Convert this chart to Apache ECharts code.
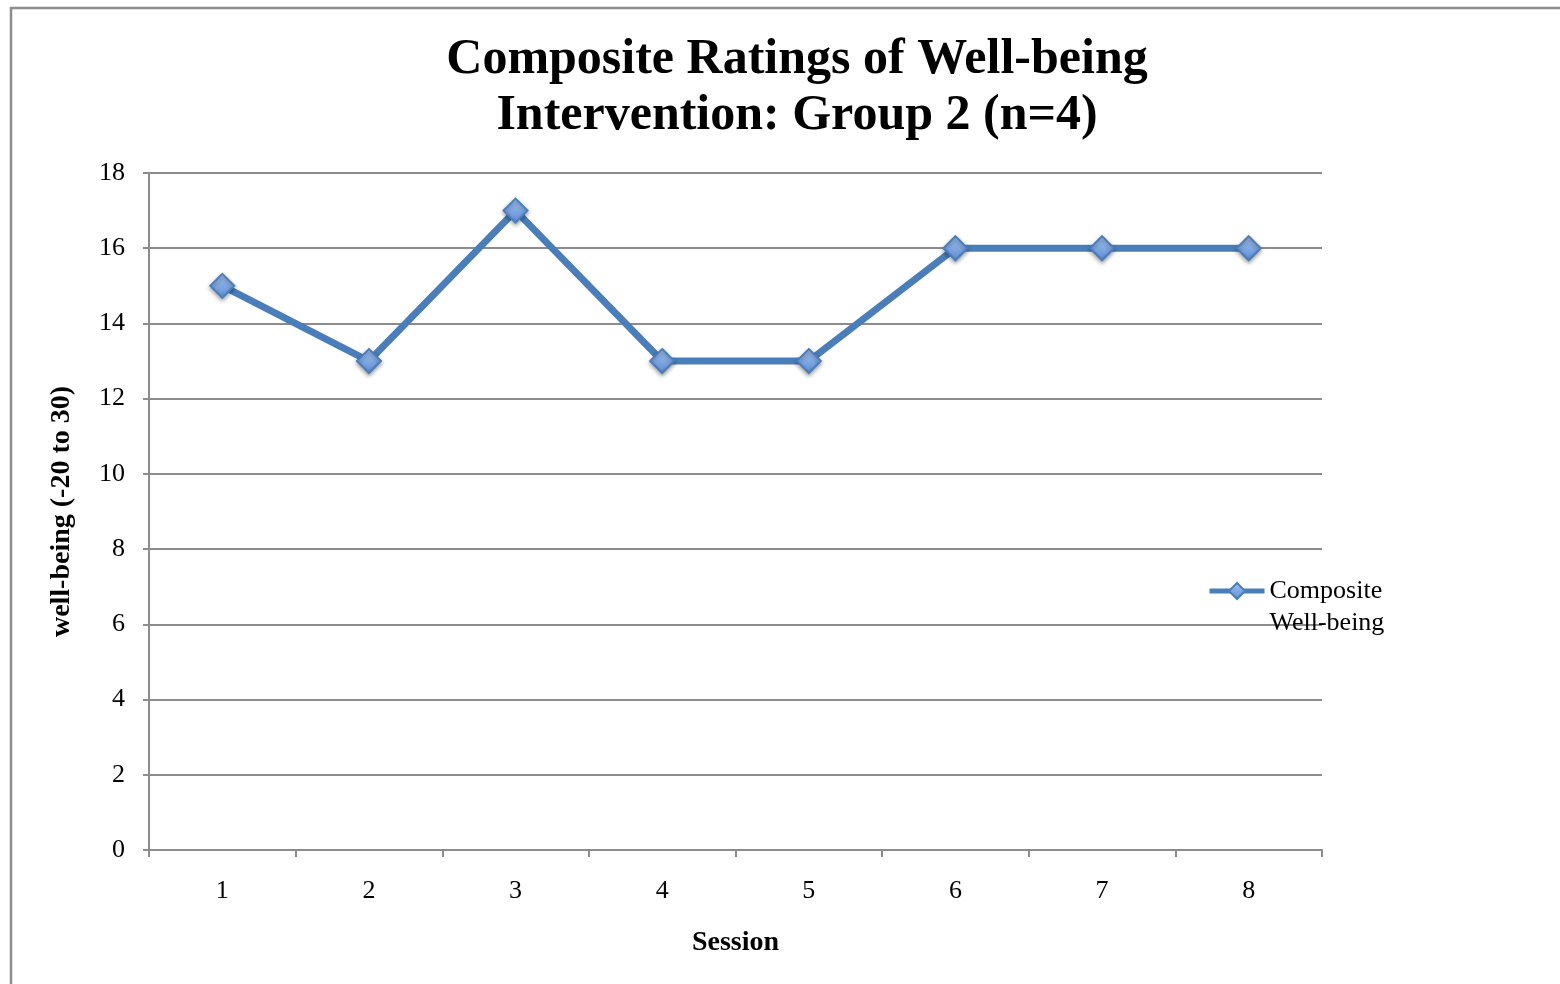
<!DOCTYPE html>
<html><head><meta charset="utf-8">
<script src="https://cdn.jsdelivr.net/npm/echarts@6/dist/echarts.min.js"></script>
<style>html,body{margin:0;padding:0;background:#fff}#c{width:1560px;height:984px}</style>
</head><body><div id="c"></div>
<script>
var sessions = ['1','2','3','4','5','6','7','8'];
var wellbeing = [15, 13, 17, 13, 13, 16, 16, 16];
var yTicks = [0, 2, 4, 6, 8, 10, 12, 14, 16, 18];
var seriesName = 'Composite\nWell-being';
var FONT = 'Liberation Serif';
var chart = echarts.init(document.getElementById('c'));
chart.setOption({
  animation: false,
  backgroundColor: '#fff',
  graphic: [{type:'rect', shape:{x:11, y:8, width:1600, height:1000}, style:{fill:'none', stroke:'#8c8c8c', lineWidth:2.5}, silent:true}],
  title: {
    text: 'Composite Ratings of Well-being\nIntervention: Group 2 (n=4)',
    left: 792, top: 27, textAlign: 'center',
    textStyle: {fontFamily: FONT, fontWeight: 'bold', fontSize: 50, lineHeight: 56, color: '#000'}
  },
  legend: {
    left: 1207, top: 543, padding: 0, orient: 'vertical', itemWidth: 55, itemHeight: 20, itemGap: 4,
    lineStyle: {width: 5},
    formatter: function(n){ return '\u00a0\n' + n; },
    textStyle: {fontFamily: FONT, fontSize: 26, lineHeight: 32, color: '#000'},
    data: [seriesName]
  },
  grid: {left: 149, right: 238, top: 173, bottom: 134, containLabel: false},
  xAxis: {
    type: 'category', data: sessions, boundaryGap: true,
    name: 'Session', nameLocation: 'middle', nameGap: 79,
    nameTextStyle: {fontFamily: FONT, fontWeight: 'bold', fontSize: 28, color: '#000'},
    axisLine: {lineStyle: {color: '#8c8c8c', width: 2}},
    axisTick: {show: true, length: 7, lineStyle: {color: '#8c8c8c', width: 2}},
    axisLabel: {fontFamily: FONT, fontSize: 26, color: '#000', margin: 28}
  },
  yAxis: {
    type: 'value', min: 0, max: 18, interval: 2,
    name: 'well-being (-20 to 30)', nameLocation: 'middle', nameGap: 73,
    nameTextStyle: {fontFamily: FONT, fontWeight: 'bold', fontSize: 28, color: '#000'},
    axisLine: {show: true, lineStyle: {color: '#8c8c8c', width: 2}},
    axisTick: {show: true, length: 6, lineStyle: {color: '#8c8c8c', width: 2}},
    axisLabel: {fontFamily: FONT, fontSize: 26, color: '#000', margin: 24,
      formatter: function(v){ return yTicks.indexOf(v) >= 0 ? String(v) : ''; }},
    splitLine: {show: true, lineStyle: {color: '#8c8c8c', width: 2}}
  },
  series: [{
    name: seriesName, type: 'line', data: wellbeing,
    symbol: 'diamond', symbolSize: 24,
    lineStyle: {color: '#4a7ebb', width: 7},
    itemStyle: {
      color: new echarts.graphic.LinearGradient(0,0,0,1,[{offset:0,color:'#a3c1ee'},{offset:1,color:'#5d8fd8'}]),
      borderColor: '#4a7ebb', borderWidth: 2,
      shadowColor: 'rgba(0,0,0,0.35)', shadowBlur: 4, shadowOffsetY: 2
    }
  }]
});
</script></body></html>
